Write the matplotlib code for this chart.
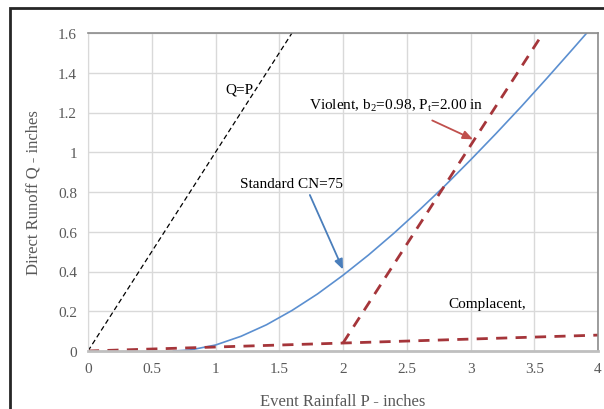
import matplotlib
matplotlib.use("Agg")
import matplotlib.pyplot as plt
from matplotlib.patches import Rectangle

plt.rcParams['font.family'] = ['Liberation Serif', 'DejaVu Serif']
plt.rcParams['mathtext.fontset'] = 'custom'
plt.rcParams['mathtext.rm'] = 'Liberation Serif'
plt.rcParams['mathtext.it'] = 'Liberation Serif'

# data
qp_x = [0, 1.6]
qp_y = [0, 1.6]

std_p = [0.67, 0.8, 1.0, 1.2, 1.4, 1.6, 1.8, 2.0, 2.2, 2.4, 2.6, 2.8, 3.0, 3.2, 3.4, 3.6, 3.8, 3.92]
std_q = [0.0, 0.005, 0.03, 0.074, 0.132, 0.204, 0.287, 0.381, 0.483, 0.593, 0.71, 0.832, 0.961, 1.094, 1.231, 1.373, 1.518, 1.606]

comp_p = [0, 4]
comp_q = [0, 0.08]

viol_p = [2, 3.57]
viol_q = [0.04, 1.6]

xticks = [0, 0.5, 1, 1.5, 2, 2.5, 3, 3.5, 4]
yticks = [0, 0.2, 0.4, 0.6, 0.8, 1, 1.2, 1.4, 1.6]

red = '#a5353a'
blue = '#5b8fd0'

fig = plt.figure(figsize=(6.04, 4.10), dpi=100)
ax = fig.add_axes([88/604, 58/410, 510/604, 318/410])

ax.plot(qp_x, qp_y, color='black', lw=0.9, ls=(0, (4, 2.5)))
ax.plot(std_p, std_q, color=blue, lw=1.2)
ax.plot(comp_p, comp_q, color=red, lw=2.0, ls=(0, (4, 3)))
ax.plot(viol_p, viol_q, color=red, lw=2.0, ls=(0, (4, 3)))

ax.set_xlim(0, 4)
ax.set_ylim(0, 1.6)
ax.set_xticks(xticks)
ax.set_xticklabels(['0', '0.5', '1', '1.5', '2', '2.5', '3', '3.5', '4'])
ax.set_yticks(yticks)
ax.set_yticklabels(['0', '0.2', '0.4', '0.6', '0.8', '1', '1.2', '1.4', '1.6'])
ax.grid(True, color='#d9d9d9', lw=1)
ax.set_axisbelow(True)
ax.tick_params(length=0, labelsize=11, colors='#595959', pad=8)
for s in ['top', 'right']:
    ax.spines[s].set_color('#8c8c8c')
    ax.spines[s].set_linewidth(1.2)
ax.spines['left'].set_color('#d9d9d9')
ax.spines['bottom'].set_color('#bfbfbf')
ax.spines['bottom'].set_linewidth(2)

ax.set_xlabel('Event Rainfall P - inches', fontsize=12, color='#595959', labelpad=13)
ax.set_ylabel('Direct Runoff Q - inches', fontsize=12, color='#595959', labelpad=12)

ax.text(1.19, 1.32, 'Q=P', fontsize=11, ha='center', va='center')

ax.text(2.42, 1.24, r'Violent, b$_\mathrm{2}$=0.98, P$_\mathrm{t}$=2.00 in', fontsize=11,
        ha='center', va='center')
ax.annotate('', xy=(3.02, 1.065), xytext=(2.70, 1.16),
            arrowprops=dict(arrowstyle='-|>,head_length=0.6,head_width=0.25', color='#c0504d',
                            lw=1.3, shrinkA=0, shrinkB=0))

ax.text(1.6, 0.845, 'Standard CN=75', fontsize=11, ha='center', va='center')
ax.annotate('', xy=(2.0, 0.41), xytext=(1.74, 0.785),
            arrowprops=dict(arrowstyle='-|>,head_length=0.6,head_width=0.25', color='#4a7ebb',
                            lw=1.3, shrinkA=0, shrinkB=0))

ax.text(3.13, 0.24, 'Complacent,', fontsize=11, ha='center', va='center')

# outer chart border
fig.patches.append(Rectangle((10/604, -0.05), 1.0, 1 - 9/410 + 0.05, transform=fig.transFigure,
                             fill=False, edgecolor='#262626', lw=2))

fig.savefig('out.png', dpi=100)
